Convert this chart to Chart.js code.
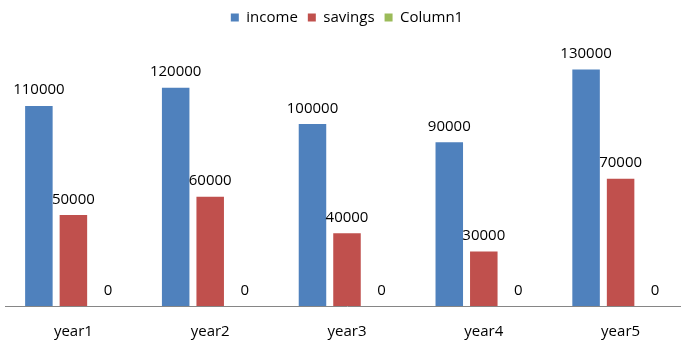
<!DOCTYPE html>
<html>
<head>
<meta charset="utf-8">
<script src="https://cdn.jsdelivr.net/npm/chart.js@4.4.0/dist/chart.umd.min.js"></script>
<style>
  html, body { margin: 0; padding: 0; background: #fff; overflow: hidden; }
  canvas { display: block; }
</style>
</head>
<body>
<canvas id="grafico" width="690" height="358"></canvas>
<script>
const anos = ["year1", "year2", "year3", "year4", "year5"];
const income = [110000, 120000, 100000, 90000, 130000];
const savings = [50000, 60000, 40000, 30000, 70000];
const column1 = [0, 0, 0, 0, 0];

const fonte = "'Open Sans', 'Liberation Sans', sans-serif";

// rotulos em cima de cada barra
const rotulos = {
  id: "rotulos",
  afterDatasetsDraw(chart) {
    const ctx = chart.ctx;
    ctx.save();
    ctx.font = "15px " + fonte;
    ctx.fillStyle = "#000";
    ctx.textAlign = "center";
    ctx.textBaseline = "alphabetic";
    chart.data.datasets.forEach((ds, i) => {
      chart.getDatasetMeta(i).data.forEach((bar, j) => {
        ctx.fillText(String(ds.data[j]), bar.x, bar.y - 11.5);
      });
    });
    ctx.restore();
  }
};

new Chart(document.getElementById("grafico"), {
  type: "bar",
  data: {
    labels: anos,
    datasets: [
      { label: "income", data: income, backgroundColor: "#4F81BD" },
      { label: "savings", data: savings, backgroundColor: "#C0504D" },
      { label: "Column1", data: column1, backgroundColor: "#9BBB59" }
    ]
  },
  options: {
    responsive: false,
    animation: false,
    categoryPercentage: 0.757,
    barPercentage: 0.797,
    layout: { padding: { left: 5, right: 1, top: 0, bottom: 0 } },
    plugins: {
      legend: {
        position: "top",
        labels: {
          boxWidth: 8,
          boxHeight: 8,
          padding: 10,
          color: "#000",
          font: { family: fonte, size: 15 }
        }
      },
      tooltip: { enabled: false }
    },
    scales: {
      x: {
        grid: { display: false, drawTicks: false },
        border: { display: true, color: "#868686", width: 1 },
        ticks: { color: "#000", padding: 17, font: { family: fonte, size: 15 } }
      },
      y: {
        display: false,
        min: 0,
        max: 149000
      }
    }
  },
  plugins: [rotulos]
});
</script>
</body>
</html>
